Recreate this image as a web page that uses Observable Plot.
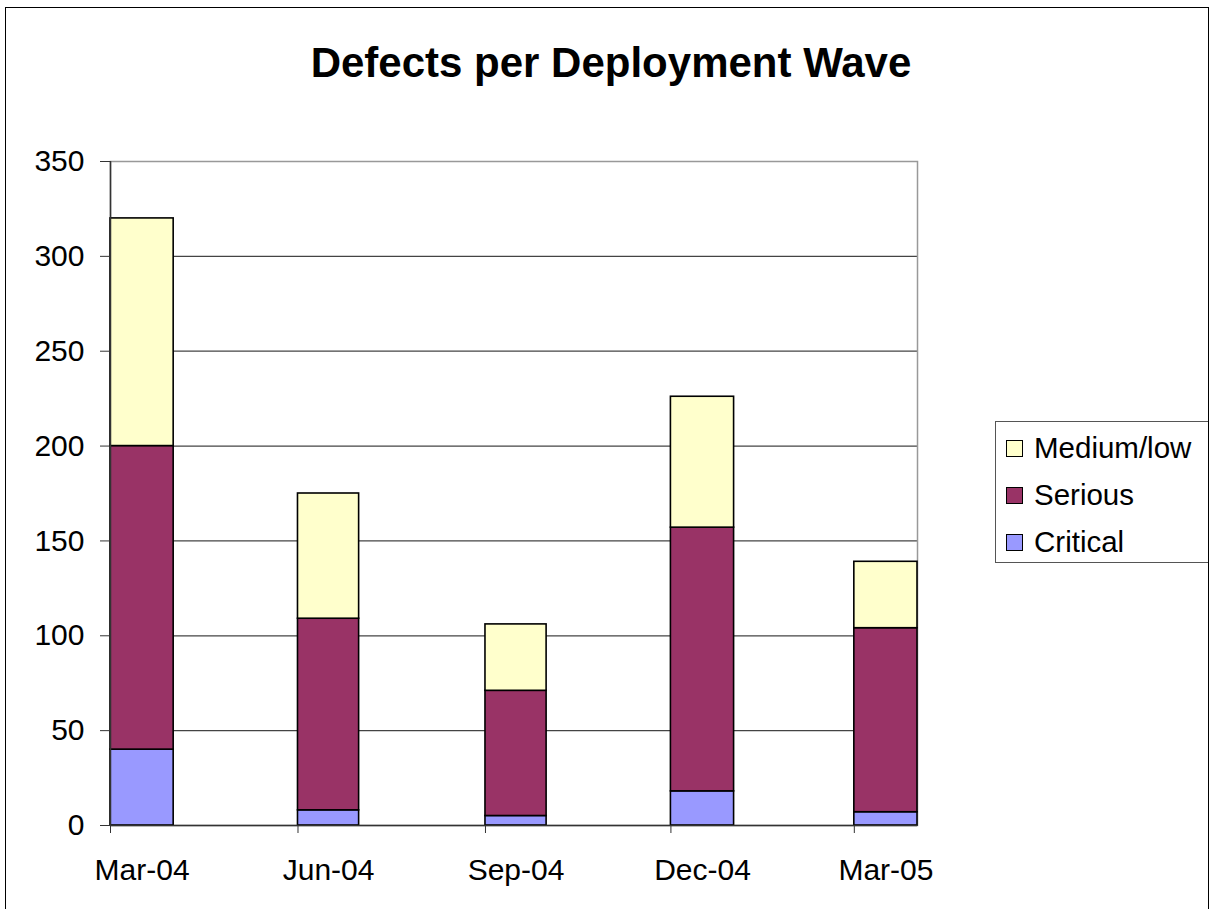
<!DOCTYPE html>
<html>
<head>
<meta charset="utf-8">
<script src="https://cdn.jsdelivr.net/npm/d3@7"></script>
<script src="https://cdn.jsdelivr.net/npm/@observablehq/plot@0.6"></script>
<style>
  html, body { margin: 0; padding: 0; background: #fff; }
  #wrap { position: relative; width: 1212px; height: 909px; overflow: hidden; font-family: "Liberation Sans", Arial, sans-serif; }
  #border { position: absolute; left: 5px; top: 7px; width: 1204px; height: 920px; border: 1px solid #000; box-sizing: border-box; pointer-events: none; }
  #title { position: absolute; left: 5px; width: 1212px; top: 38px; text-align: center; font-weight: bold; font-size: 42px; line-height: 50px; color: #000; }
  #chart { position: absolute; left: 0; top: 0; }
  #legend { position: absolute; left: 995px; top: 421px; width: 214px; height: 142px; border: 1px solid #555; box-sizing: border-box; background: #fff; }
  .item { position: absolute; left: 10px; height: 30px; display: flex; align-items: center; font-size: 29.5px; color: #000; white-space: nowrap; }
  .sw { width: 17px; height: 17px; border: 1.5px solid #000; box-sizing: border-box; margin-right: 11px; }
</style>
</head>
<body>
<div id="wrap">
  <div id="chart"></div>
  <div id="title">Defects per Deployment Wave</div>
  <div id="legend"></div>
  <div id="border"></div>
</div>
<script>
// ---- data ----
const waves = ["2004-03-01", "2004-06-01", "2004-09-01", "2004-12-01", "2005-03-01"];
const waveLabels = ["Mar-04", "Jun-04", "Sep-04", "Dec-04", "Mar-05"];
const critical = [40, 8, 5, 18, 7];
const serious = [160, 101, 66, 139, 97];
const mediumLow = [120, 66, 35, 69, 35];
const seriesNames = ["Critical", "Serious", "Medium/low"];
const seriesColors = ["#9999FF", "#993366", "#FFFFCC"];
const yTicks = [0, 50, 100, 150, 200, 250, 300, 350];

// ---- build table ----
const parse = d3.utcParse("%Y-%m-%d");
const seriesValues = [critical, serious, mediumLow];
const rows = [];
waves.forEach((w, i) => {
  const start = parse(w);
  const end = d3.utcMonth.offset(start, 1);
  seriesNames.forEach((s, k) => {
    rows.push({start, end, series: s, value: seriesValues[k][i]});
  });
});
const tickDates = waves.map(parse);
const labelDates = tickDates.map(d => new Date((+d + +d3.utcMonth.offset(d, 1)) / 2));
const labelMap = new Map(labelDates.map((d, i) => [+d, waveLabels[i]]));
const xDomain = [tickDates[0], d3.utcMonth.offset(tickDates[tickDates.length - 1], 1)];

const chart = Plot.plot({
  width: 1212,
  height: 909,
  marginLeft: 110,
  marginRight: 295,
  marginTop: 161,
  marginBottom: 84,
  style: {fontFamily: "'Liberation Sans', Arial, sans-serif", color: "#000", background: "transparent", overflow: "visible"},
  x: {type: "utc", domain: xDomain},
  y: {domain: [0, 350]},
  color: {domain: seriesNames, range: seriesColors},
  marks: [
    Plot.ruleY(yTicks.filter(t => t > 0 && t < 350), {stroke: "#444", strokeWidth: 1.2}),
    Plot.frame({stroke: "#999", strokeWidth: 1.5}),
    Plot.rectY(rows, {x1: "start", x2: "end", y: "value", fill: "series", stroke: "#000", strokeWidth: 1.6, order: seriesNames}),
    Plot.ruleX([xDomain[0]], {stroke: "#333", strokeWidth: 1.5}),
    Plot.ruleY([0], {stroke: "#333", strokeWidth: 1.5}),
    Plot.axisY({ticks: yTicks, tickSize: 10, tickPadding: 16, fontSize: 30, label: null, stroke: "#333"}),
    Plot.axisX({ticks: tickDates, tickSize: 8, tickFormat: () => "", label: null, stroke: "#333"}),
    Plot.axisX({ticks: labelDates, tickSize: 0, tickPadding: 33, fontSize: 30, label: null, tickFormat: d => labelMap.get(+d)})
  ]
});
document.getElementById("chart").appendChild(chart);

// ---- legend ----
const legend = document.getElementById("legend");
const legendOrder = [2, 1, 0];
legendOrder.forEach((k, j) => {
  const item = document.createElement("div");
  item.className = "item";
  item.style.top = (11 + j * 47) + "px";
  const sw = document.createElement("div");
  sw.className = "sw";
  sw.style.background = seriesColors[k];
  const tx = document.createElement("span");
  tx.textContent = seriesNames[k];
  item.appendChild(sw);
  item.appendChild(tx);
  legend.appendChild(item);
});
</script>
</body>
</html>
